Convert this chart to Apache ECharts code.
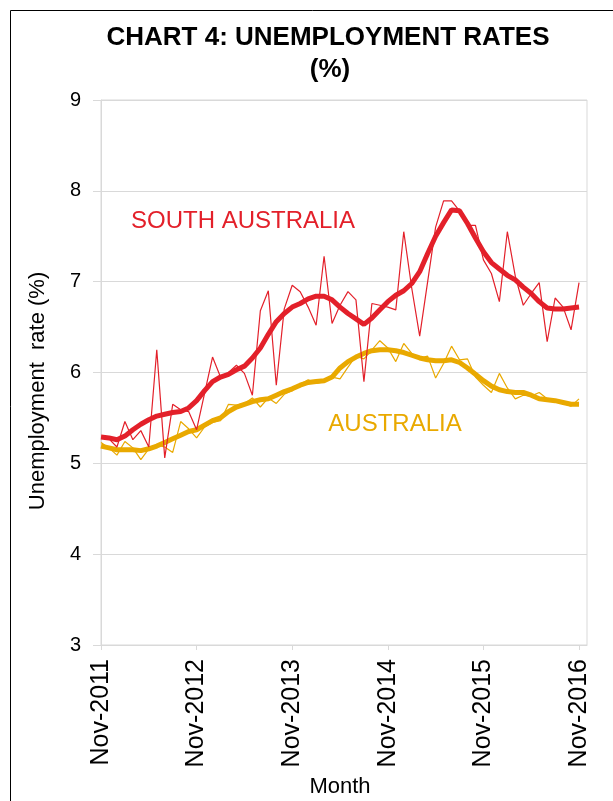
<!DOCTYPE html>
<html>
<head>
<meta charset="utf-8">
<script src="https://cdn.jsdelivr.net/npm/echarts@6/dist/echarts.min.js"></script>
<style>
html,body{margin:0;padding:0;background:#fff;}
#chart{width:613px;height:801px;}
</style>
</head>
<body>
<div id="chart"></div>
<script>
var months = ["Nov-2011","Dec-2011",
"Jan-2012","Feb-2012","Mar-2012","Apr-2012","May-2012","Jun-2012","Jul-2012","Aug-2012","Sep-2012","Oct-2012","Nov-2012","Dec-2012",
"Jan-2013","Feb-2013","Mar-2013","Apr-2013","May-2013","Jun-2013","Jul-2013","Aug-2013","Sep-2013","Oct-2013","Nov-2013","Dec-2013",
"Jan-2014","Feb-2014","Mar-2014","Apr-2014","May-2014","Jun-2014","Jul-2014","Aug-2014","Sep-2014","Oct-2014","Nov-2014","Dec-2014",
"Jan-2015","Feb-2015","Mar-2015","Apr-2015","May-2015","Jun-2015","Jul-2015","Aug-2015","Sep-2015","Oct-2015","Nov-2015","Dec-2015",
"Jan-2016","Feb-2016","Mar-2016","Apr-2016","May-2016","Jun-2016","Jul-2016","Aug-2016","Sep-2016","Oct-2016","Nov-2016","Dec-2016"];

var yTicks = [3,4,5,6,7,8,9];

var saRaw = [5.28,5.27,5.18,5.46,5.26,5.36,5.18,6.25,5.06,5.65,
5.59,5.57,5.37,5.77,6.17,5.95,6.00,6.08,5.99,5.75,
6.68,6.90,5.86,6.70,6.96,6.89,6.72,6.52,7.28,6.54,
6.74,6.89,6.80,5.90,6.76,6.74,6.72,6.69,7.55,6.93,
6.40,7.00,7.60,7.89,7.89,7.78,7.62,7.62,7.24,7.09,
6.78,7.55,7.06,6.74,6.87,6.99,6.34,6.82,6.72,6.47,
6.99];

var saTrend = [5.29,5.28,5.26,5.30,5.37,5.43,5.48,5.52,5.54,5.56,
5.57,5.61,5.69,5.80,5.90,5.95,5.98,6.03,6.07,6.16,
6.27,6.42,6.56,6.65,6.72,6.76,6.81,6.84,6.84,6.80,
6.72,6.65,6.59,6.53,6.60,6.69,6.78,6.85,6.90,6.98,
7.11,7.31,7.50,7.65,7.79,7.78,7.64,7.48,7.33,7.21,
7.14,7.07,7.02,6.94,6.87,6.78,6.71,6.70,6.70,6.71,
6.72];

var auRaw = [5.23,5.17,5.09,5.24,5.17,5.04,5.16,5.20,5.18,5.12,
5.46,5.38,5.28,5.40,5.45,5.47,5.65,5.64,5.66,5.72,
5.62,5.72,5.66,5.76,5.80,5.87,5.92,5.88,5.90,5.95,
5.93,6.06,6.18,6.15,6.25,6.35,6.27,6.12,6.32,6.21,
6.16,6.18,5.94,6.10,6.29,6.14,6.15,5.95,5.86,5.78,
5.99,5.83,5.71,5.75,5.74,5.78,5.71,5.68,5.66,5.63,
5.71];

var auTrend = [5.19,5.17,5.15,5.15,5.15,5.14,5.16,5.19,5.23,5.27,
5.31,5.35,5.37,5.42,5.47,5.50,5.57,5.62,5.65,5.68,
5.70,5.71,5.75,5.79,5.82,5.86,5.89,5.90,5.91,5.95,
6.05,6.12,6.17,6.21,6.24,6.25,6.25,6.24,6.22,6.19,
6.16,6.14,6.13,6.13,6.14,6.11,6.05,5.98,5.91,5.85,
5.81,5.79,5.78,5.78,5.75,5.71,5.70,5.69,5.67,5.65,
5.65];

var RED = '#e3202a';
var GOLD = '#e9a900';
var FONT = '"Liberation Sans", Arial, sans-serif';
var GRIDC = '#d9d9d9';

var chart = echarts.init(document.getElementById('chart'), null, {renderer:'canvas'});
var showNov = function(i){ return i % 12 === 0; };

chart.setOption({
  animation: false,
  backgroundColor: '#fff',
  textStyle: {fontFamily: FONT},
  grid: {left: 101, right: 26, top: 100, bottom: 156, show: true, borderColor: GRIDC, borderWidth: 1, backgroundColor: 'transparent'},
  xAxis: {
    type: 'category',
    data: months,
    boundaryGap: false,
    axisLine: {lineStyle: {color: GRIDC, width: 1}},
    axisTick: {show: true, interval: showNov, length: 5, lineStyle: {color: GRIDC}},
    axisLabel: {interval: showNov, rotate: 90, fontSize: 25, color: '#000', margin: 14, fontFamily: FONT},
    splitLine: {show: false}
  },
  yAxis: {
    type: 'value',
    min: 3, max: 9, interval: 1,
    axisLine: {show: true, lineStyle: {color: GRIDC}},
    axisTick: {show: true, length: 8, lineStyle: {color: GRIDC}},
    axisLabel: {fontSize: 20, color: '#000', margin: 20, fontFamily: FONT,
      formatter: function(v){ return yTicks.indexOf(v) >= 0 ? String(v) : ''; }},
    splitLine: {lineStyle: {color: GRIDC, width: 1}}
  },
  graphic: [
    {type: 'rect', shape: {x: 10.5, y: 10.5, width: 800, height: 900}, style: {fill: 'none', stroke: '#000', lineWidth: 1}, z: -1},
    {type: 'text', x: 328, y: 38, style: {text: 'CHART 4: UNEMPLOYMENT RATES', font: 'bold 26px ' + FONT, fill: '#000', textAlign: 'center', textVerticalAlign: 'middle'}},
    {type: 'text', x: 330, y: 70, style: {text: '(%)', font: 'bold 26px ' + FONT, fill: '#000', textAlign: 'center', textVerticalAlign: 'middle'}},
    {type: 'text', x: 38, y: 391, rotation: Math.PI/2, style: {text: 'Unemployment  rate (%)', font: '22px ' + FONT, fill: '#000', textAlign: 'center', textVerticalAlign: 'middle'}},
    {type: 'text', x: 340, y: 787, style: {text: 'Month', font: '22px ' + FONT, fill: '#000', textAlign: 'center', textVerticalAlign: 'middle'}},
    {type: 'text', x: 243, y: 221, style: {text: 'SOUTH AUSTRALIA', font: '24px ' + FONT, fill: RED, textAlign: 'center', textVerticalAlign: 'middle'}},
    {type: 'text', x: 395, y: 424, style: {text: 'AUSTRALIA', font: '24px ' + FONT, fill: GOLD, textAlign: 'center', textVerticalAlign: 'middle'}}
  ],
  series: [
    {name: 'Australia trend', type: 'line', data: auTrend, showSymbol: false, symbol: 'none', lineStyle: {color: GOLD, width: 5}, z: 2},
    {name: 'South Australia trend', type: 'line', data: saTrend, showSymbol: false, symbol: 'none', lineStyle: {color: RED, width: 5}, z: 2},
    {name: 'Australia', type: 'line', data: auRaw, showSymbol: false, symbol: 'none', lineStyle: {color: GOLD, width: 1.2}, z: 3},
    {name: 'South Australia', type: 'line', data: saRaw, showSymbol: false, symbol: 'none', lineStyle: {color: RED, width: 1.2}, z: 3}
  ]
});
</script>
</body>
</html>
